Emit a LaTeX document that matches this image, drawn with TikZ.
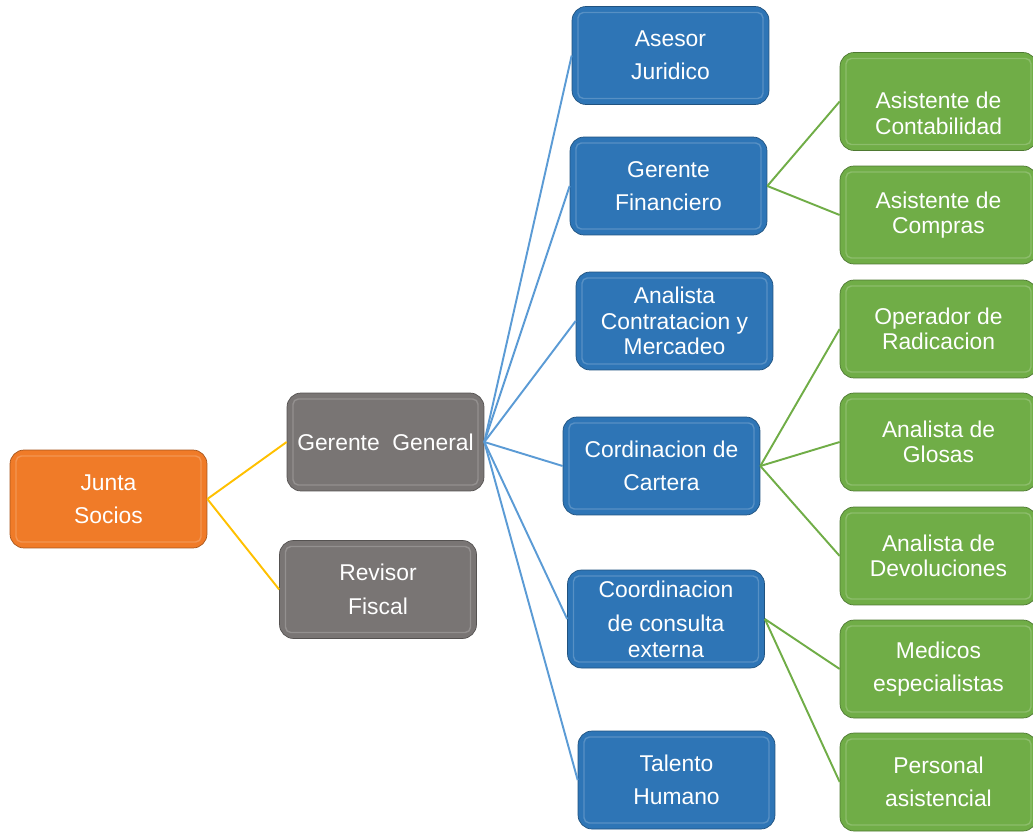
\documentclass[tikz,border=0pt]{standalone}
\usepackage{fontspec}
\setmainfont{Liberation Sans}
\usepackage{tikz}
\usetikzlibrary{positioning, calc}

\definecolor{naranja}{RGB}{240,123,40}
\definecolor{gris}{RGB}{121,117,116}
\definecolor{azul}{RGB}{46,117,182}
\definecolor{verde}{RGB}{112,173,71}
\definecolor{lineaazul}{RGB}{91,155,213}
\definecolor{lineaamar}{RGB}{255,192,0}

\begin{document}
\begin{tikzpicture}[
    x=0.02cm, y=-0.02cm,
    caja/.style={draw=#1!70!black, fill=#1, rounded corners=8, text=white,
        font=\fontsize{13}{19}\selectfont, align=center,
        minimum width=3.94cm, minimum height=1.96cm, inner sep=2pt,
        path picture={
            \draw[white, opacity=0.2, line width=0.8pt, rounded corners=3]
                ($(path picture bounding box.south west)+(6,-6)$) rectangle
                ($(path picture bounding box.north east)+(-6,6)$);
        }},
    junto/.style={font=\fontsize{13}{14.5}\selectfont},
    lin/.style={line width=1.1pt, color=#1}
]
    \path[use as bounding box, clip] (0,0) rectangle (1033,831);

    % nivel 1 y 2
    \node[caja=naranja] (junta) at (108.5,499) {Junta\\Socios};
    \node[caja=gris] (gerente) at (385.5,442) {Gerente\ \ General};
    \node[caja=gris] (revisor) at (378,589.5) {Revisor\\Fiscal};

    % areas
    \node[caja=azul] (asesor) at (670.5,55.5) {Asesor\\Juridico};
    \node[caja=azul] (financiero) at (668.5,186) {Gerente\\Financiero};
    \node[caja=azul, junto] (mercadeo) at (674.5,321) {Analista\\Contratacion y\\Mercadeo};
    \node[caja=azul] (cartera) at (661.5,466) {Cordinacion de\\Cartera};
    \node[caja=azul, junto] (consulta) at (666,619) {Coordinacion\\[5pt]de consulta\\externa};
    \node[caja=azul] (talento) at (676.5,780) {Talento\\Humano};

    % cargos
    \node[caja=verde, junto] (contab) at (938.5,101.5) {\rule{0pt}{23pt}Asistente de\\Contabilidad};
    \node[caja=verde, junto] (compras) at (938.5,215) {Asistente de\\Compras};
    \node[caja=verde, junto] (radica) at (938.5,329) {Operador de\\Radicacion};
    \node[caja=verde, junto] (glosas) at (938.5,442) {Analista de\\Glosas};
    \node[caja=verde, junto] (devol) at (938.5,556) {Analista de\\Devoluciones};
    \node[caja=verde] (medicos) at (938.5,669) {Medicos\\especialistas};
    \node[caja=verde] (personal) at (938.5,782) {Personal\\asistencial};

    \draw[lin=lineaamar] (junta.east) -- (gerente.west);
    \draw[lin=lineaamar] (junta.east) -- (revisor.west);
    \foreach \n in {asesor, financiero, mercadeo, cartera, consulta, talento}
        \draw[lin=lineaazul] (gerente.east) -- (\n.west);
    \draw[lin=verde] (financiero.east) -- (contab.west);
    \draw[lin=verde] (financiero.east) -- (compras.west);
    \draw[lin=verde] (cartera.east) -- (radica.west);
    \draw[lin=verde] (cartera.east) -- (glosas.west);
    \draw[lin=verde] (cartera.east) -- (devol.west);
    \draw[lin=verde] (consulta.east) -- (medicos.west);
    \draw[lin=verde] (consulta.east) -- (personal.west);
\end{tikzpicture}
\end{document}
